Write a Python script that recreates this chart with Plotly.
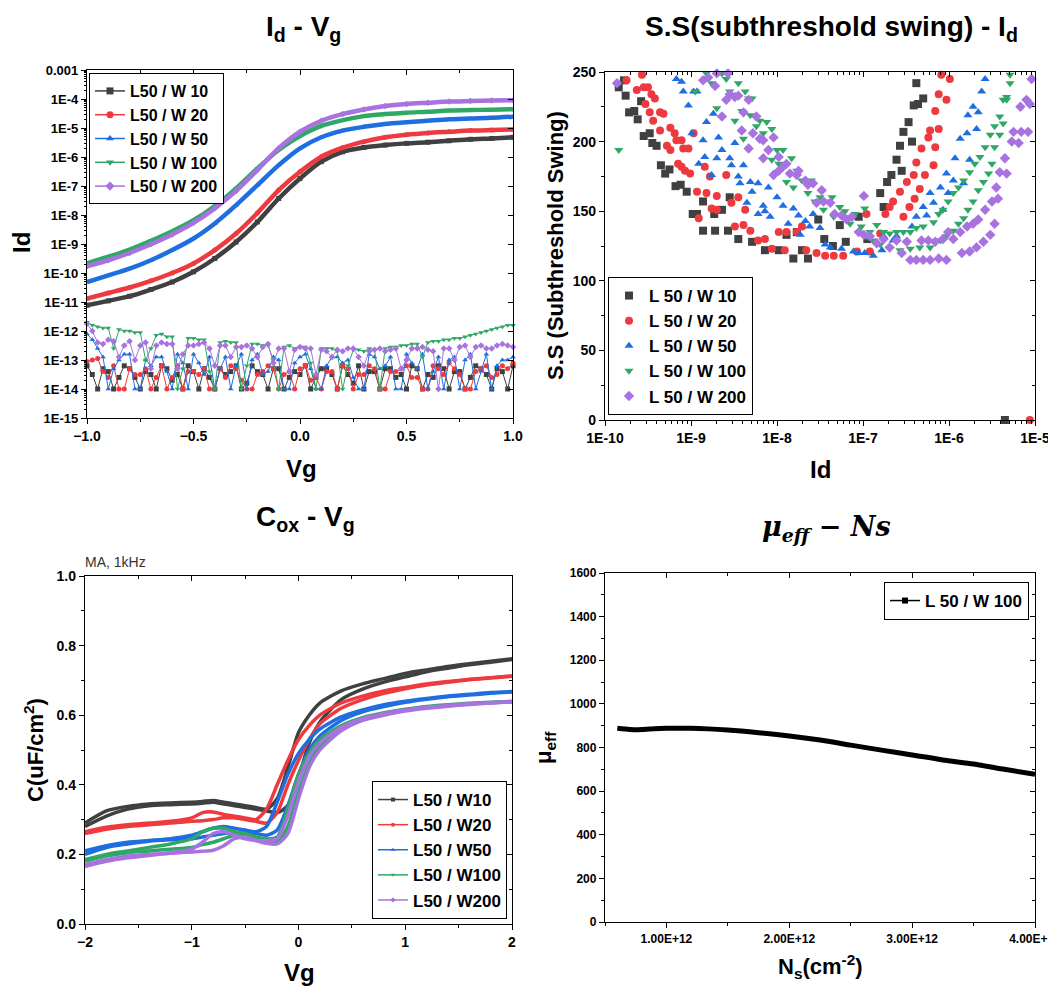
import plotly.graph_objects as go

# The page body has an 8px margin; layout coordinates below are window pixels.
OFF = 8
W, H = 1056 - OFF, 988 - OFF
FONT = "Liberation Sans, Arial, sans-serif"

def fx(px):
    return (px - OFF) / W

def fy(py):
    return 1 - (py - OFF) / H

names_a = ["L50 / W 10", "L50 / W 20", "L50 / W 50", "L50 / W 100", "L50 / W 200"]
names_b = ["L 50 / W 10", "L 50 / W 20", "L 50 / W 50", "L 50 / W 100", "L 50 / W 200"]
names_c = ["L50 / W10", "L50 / W20", "L50 / W50", "L50 / W100", "L50 / W200"]
colors = ["#404040", "#ee3a3f", "#1f6ee0", "#2fa866", "#a872e0"]
symbols = ["square", "circle", "triangle-up", "triangle-down", "diamond"]

# ---------------- Panel 1: Id - Vg (log10 of Id) ----------------
vg = [-1.0, -0.9, -0.8, -0.7, -0.6, -0.5, -0.4, -0.3, -0.2, -0.1, 0.0,
      0.1, 0.2, 0.3, 0.4, 0.5, 0.6, 0.7, 0.8, 0.9, 1.0]
id_w10 = [-11.11, -10.96, -10.80, -10.57, -10.31, -9.96, -9.50, -8.93, -8.24, -7.43, -6.74,
          -6.16, -5.82, -5.67, -5.59, -5.53, -5.49, -5.44, -5.39, -5.36, -5.32]
id_w20 = [-10.88, -10.69, -10.50, -10.27, -10.00, -9.67, -9.21, -8.64, -7.93, -7.14, -6.51,
          -5.99, -5.68, -5.47, -5.32, -5.23, -5.17, -5.13, -5.09, -5.07, -5.05]
id_w50 = [-10.31, -10.08, -9.85, -9.56, -9.21, -8.81, -8.29, -7.66, -6.97, -6.28, -5.70,
          -5.32, -5.09, -4.96, -4.86, -4.80, -4.75, -4.70, -4.67, -4.65, -4.61]
id_w100 = [-9.67, -9.44, -9.19, -8.89, -8.56, -8.18, -7.69, -7.08, -6.39, -5.76, -5.28,
           -4.93, -4.73, -4.59, -4.52, -4.47, -4.44, -4.40, -4.38, -4.37, -4.35]
id_w200 = [-9.77, -9.56, -9.31, -9.01, -8.67, -8.27, -7.77, -7.17, -6.45, -5.70, -5.13,
           -4.75, -4.52, -4.36, -4.24, -4.17, -4.13, -4.09, -4.07, -4.05, -4.04]

# gate-leakage floor, two interleaved sweeps
vg_noise = [-1.0, -0.95, -0.9, -0.85, -0.8, -0.75, -0.7, -0.65, -0.6, -0.55, -0.5,
            -0.45, -0.4, -0.35, -0.3, -0.25, -0.2, -0.15, -0.1, -0.05, 0.0,
            0.05, 0.1, 0.15, 0.2, 0.25, 0.3, 0.35, 0.4, 0.45, 0.5,
            0.55, 0.6, 0.65, 0.7, 0.75, 0.8, 0.85, 0.9, 0.95, 1.0]
vg_noise2 = [-0.975, -0.925, -0.875, -0.825, -0.775, -0.725, -0.675, -0.625, -0.575, -0.525,
             -0.475, -0.425, -0.375, -0.325, -0.275, -0.225, -0.175, -0.125, -0.075, -0.025,
             0.025, 0.075, 0.125, 0.175, 0.225, 0.275, 0.325, 0.375, 0.425, 0.475,
             0.525, 0.575, 0.625, 0.675, 0.725, 0.775, 0.825, 0.875, 0.925, 0.975]
ig_w10 = [-13.2, -14.0, -13.4, -13.6, -13.3, -14.0, -13.5, -13.2, -13.7, -14.0, -13.4,
          -13.3, -14.0, -13.5, -13.2, -13.8, -13.4, -14.0, -13.3, -13.6, -13.5,
          -14.0, -13.3, -13.5, -13.2, -13.8, -14.0, -13.4, -13.3, -13.6, -14.0,
          -13.3, -13.5, -13.2, -14.0, -13.4, -13.6, -13.3, -14.0, -13.4, -13.2]
ig_w10_b = [-13.5, -13.3, -14.0, -13.2, -13.6, -13.4, -14.0, -13.3, -13.5, -13.2,
            -14.0, -13.6, -13.3, -13.4, -14.0, -13.2, -13.5, -13.3, -14.0, -13.4,
            -13.2, -13.6, -13.3, -14.0, -13.5, -13.2, -13.4, -14.0, -13.3, -13.5,
            -13.2, -14.0, -13.6, -13.3, -13.4, -14.0, -13.2, -13.5, -13.3, -14.0]
ig_w20 = [-13.05, -12.95, -13.6, -14.0, -13.3, -13.5, -14.0, -13.2, -13.6, -14.0, -13.4,
          -13.3, -14.0, -13.6, -13.3, -14.0, -13.5, -13.2, -14.0, -13.4, -13.3,
          -13.7, -14.0, -13.4, -13.2, -14.0, -13.5, -13.3, -14.0, -13.4, -13.2,
          -13.6, -14.0, -13.3, -13.1, -13.5, -14.0, -13.3, -13.6, -13.2, -13.1]
ig_w20_b = [-13.0, -13.4, -13.2, -14.0, -13.5, -13.3, -13.6, -14.0, -13.2, -13.4,
            -13.5, -14.0, -13.3, -13.2, -13.7, -14.0, -13.4, -13.3, -13.5, -14.0,
            -13.2, -13.6, -13.4, -14.0, -13.3, -13.5, -13.2, -14.0, -13.4, -13.3,
            -13.6, -14.0, -13.2, -13.5, -13.3, -14.0, -13.4, -13.2, -13.5, -13.3]
ig_w50 = [-12.1, -12.6, -14.0, -13.0, -12.8, -14.0, -13.2, -12.9, -14.0, -13.1, -12.8,
          -13.5, -14.0, -12.9, -13.2, -14.0, -12.8, -13.4, -13.0, -14.0, -12.9,
          -13.3, -14.0, -12.9, -13.1, -13.6, -14.0, -12.9, -13.2, -14.0, -12.8,
          -13.3, -14.0, -12.9, -13.0, -14.0, -12.8, -13.4, -14.0, -13.0, -12.9]
ig_w50_b = [-12.3, -12.9, -13.3, -12.8, -14.0, -13.0, -12.9, -13.4, -12.8, -14.0,
            -13.1, -12.9, -13.3, -14.0, -12.8, -13.0, -13.5, -12.9, -14.0, -13.1,
            -12.8, -14.0, -13.2, -12.9, -13.0, -14.0, -12.8, -13.3, -12.9, -14.0,
            -13.1, -12.8, -13.4, -14.0, -12.9, -13.0, -14.0, -12.8, -13.2, -13.0]
ig_w100 = [-11.7, -11.85, -11.9, -11.95, -12.0, -12.05, -12.6, -12.1, -12.2, -13.3, -12.25,
           -12.3, -14.0, -12.35, -12.4, -13.2, -12.45, -12.5, -14.0, -12.5, -12.55,
           -13.1, -12.6, -12.6, -14.0, -12.65, -12.7, -12.65, -12.6, -12.55, -12.5,
           -12.45, -12.4, -12.35, -12.3, -12.25, -12.15, -12.05, -11.95, -11.85, -11.8]
ig_w100_b = [-11.8, -11.9, -12.6, -12.0, -12.05, -13.0, -12.15, -12.2, -14.0, -12.25,
             -12.3, -13.4, -12.4, -12.4, -14.0, -12.45, -12.5, -13.0, -12.55, -12.6,
             -12.55, -14.0, -12.6, -12.7, -13.2, -12.65, -12.6, -14.0, -12.55, -12.5,
             -12.45, -12.9, -12.35, -12.3, -12.25, -12.2, -12.1, -12.0, -11.9, -11.8]
ig_w200 = [-11.75, -12.4, -12.3, -12.9, -12.35, -12.5, -13.3, -12.4, -12.45, -12.8, -12.5,
           -12.4, -13.2, -12.5, -12.55, -12.5, -12.9, -12.45, -12.6, -13.4, -12.55,
           -12.6, -12.65, -12.9, -12.7, -12.6, -13.2, -12.65, -12.7, -12.6, -13.0,
           -12.6, -12.65, -14.0, -12.6, -12.55, -12.9, -12.5, -12.6, -12.45, -12.55]
ig_w200_b = [-12.0, -12.45, -12.35, -12.5, -13.0, -12.4, -12.5, -12.45, -13.3, -12.5,
             -12.45, -12.6, -12.5, -12.9, -12.55, -12.6, -12.55, -13.1, -12.6, -12.65,
             -12.6, -13.5, -12.7, -12.65, -12.6, -12.9, -12.7, -12.6, -12.65, -13.3,
             -12.6, -12.55, -12.7, -12.6, -13.0, -12.5, -12.55, -12.6, -12.5, -12.5]

id_ticks_exp = [-15, -14, -13, -12, -11, -10, -9, -8, -7, -6, -5, -4, -3]
id_ticks_txt = ["1E-15", "1E-14", "1E-13", "1E-12", "1E-11", "1E-10", "1E-9",
                "1E-8", "1E-7", "1E-6", "1E-5", "1E-4", "0.001"]

# ---------------- Panel 2: S.S - Id (log10 Id, S.S) ----------------
ss_w10_id = [-9.84, -9.78, -9.76, -9.72, -9.66, -9.62, -9.58, -9.55, -9.48, -9.45, -9.4,
             -9.35, -9.3, -9.25, -9.18, -9.12, -9.05, -8.98, -8.93, -8.86, -8.86, -8.73,
             -8.72, -8.64, -8.57, -8.55, -8.45, -8.29, -8.14, -7.98, -7.81, -7.64, -7.71,
             -7.89, -7.77, -7.52, -7.45, -7.35, -7.27, -7.2, -7.05, -6.95, -6.8, -6.76,
             -6.72, -6.67, -6.61, -6.55, -6.57, -6.53, -6.47, -6.43, -6.41, -6.36, -6.3,
             -6.38, -5.35]
ss_w10_val = [239, 244, 233, 221, 222, 216, 229, 204, 206, 199, 197,
              183, 177, 180, 168, 169, 164, 148, 148, 136, 157, 148,
              136, 151, 136, 160, 130, 128, 122, 122, 116, 116, 122,
              133, 135, 144, 130, 125, 140, 128, 146, 130, 163, 153,
              171, 176, 187, 179, 197, 207, 214, 200, 226, 227, 231,
              242, 0]
ss_w20_id = [-9.75, -9.57, -9.63, -9.55, -9.5, -9.46, -9.42, -9.53, -9.48, -9.44, -9.36,
             -9.32, -9.36, -9.24, -9.28, -9.19, -9.17, -9.11, -9.09, -9.03, -8.97, -9.24,
             -9.15, -9.11, -9.07, -9.01, -8.93, -8.91, -8.84, -8.78, -8.82, -8.76, -8.70,
             -8.70, -8.59, -8.53, -8.49, -8.45, -8.39, -8.37, -8.31, -8.22, -8.14, -8.06,
             -7.98, -7.91, -7.89, -7.77, -7.71, -7.66, -7.54, -7.44, -7.34, -7.23, -7.07,
             -6.96, -6.92, -6.8, -6.74, -6.69, -6.65, -6.57, -6.53, -6.49, -6.46, -6.41,
             -6.4, -6.38, -6.34, -6.32, -6.28, -6.24, -6.22, -6.18, -6.16, -6.16, -6.12,
             -6.12, -6.09, -6.03, -5.99, -5.06]
ss_w20_val = [244, 248, 237, 239, 239, 234, 231, 227, 221, 215, 221,
              220, 208, 210, 197, 206, 201, 201, 195, 195, 206, 194,
              184, 182, 179, 177, 164, 145, 182, 175, 163, 152, 161,
              151, 176, 156, 139, 160, 140, 151, 136, 129, 130, 123,
              135, 122, 135, 135, 139, 122, 120, 118, 118, 118, 121,
              148, 121, 134, 148, 153, 157, 164, 146, 171, 153, 176,
              159, 185, 166, 195, 176, 203, 208, 183, 196, 222, 209,
              234, 248, 230, 245, 0]
ss_w50_id = [-9.17, -9.11, -9.09, -9.03, -8.97, -8.93, -8.99, -8.86, -8.82, -8.91, -8.84,
             -8.76, -8.74, -8.70, -8.64, -8.68, -8.55, -8.53, -8.49, -8.45, -8.43, -8.39,
             -8.35, -8.31, -8.29, -8.22, -8.22, -8.16, -8.10, -8.14, -8.08, -8.00, -7.93,
             -7.87, -7.81, -7.75, -7.73, -7.67, -7.62, -7.58, -7.50, -7.44, -7.38, -7.25,
             -7.11, -7.05, -6.98, -6.88, -6.78, -6.76, -6.65, -6.61, -6.43, -6.38, -6.30,
             -6.26, -6.22, -6.18, -6.10, -6.07, -6.03, -6.01, -5.95, -5.93, -5.87, -5.83,
             -5.79, -5.78, -5.76, -5.72, -5.68, -5.66, -5.62, -5.58]
ss_w50_val = [245, 243, 236, 226, 236, 236, 206, 201, 214, 184, 189,
              176, 220, 188, 194, 203, 188, 183, 199, 175, 170, 183,
              156, 171, 164, 170, 148, 154, 167, 150, 146, 160, 154,
              141, 152, 147, 133, 143, 139, 148, 138, 126, 124, 123,
              121, 120, 120, 118, 122, 132, 129, 132, 139, 146, 153,
              147, 163, 156, 167, 151, 177, 163, 172, 188, 202, 170,
              206, 219, 187, 225, 209, 221, 236, 245]
ss_w100_id = [-9.84, -8.95, -8.82, -8.76, -8.70, -8.64, -8.59, -8.55, -8.49, -8.45, -8.41,
              -8.37, -8.33, -8.39, -8.31, -8.29, -8.24, -8.20, -8.16, -8.12, -8.06, -8.06,
              -8.00, -7.98, -7.93, -7.89, -7.83, -7.81, -7.77, -7.71, -7.67, -7.64, -7.60,
              -7.56, -7.50, -7.46, -7.40, -7.36, -7.34, -7.27, -7.21, -7.15, -7.09, -7.02,
              -6.98, -6.92, -6.84, -6.76, -6.69, -6.61, -6.53, -6.45, -6.38, -6.30, -6.18,
              -6.12, -6.07, -6.01, -5.95, -5.89, -5.83, -5.76, -5.70, -5.64, -5.58, -5.52,
              -5.47, -5.41, -5.37, -5.33, -5.29, -6.96, -6.88, -6.80, -6.69, -6.57, -6.45,
              -6.34, -6.22, -6.10, -6.03, -5.95, -5.89, -5.83, -5.78, -5.72, -5.66, -5.60,
              -5.54, -5.50, -5.47, -5.41, -5.37, -5.33, -5.29]
ss_w100_val = [194, 236, 249, 242, 224, 249, 245, 236, 215, 242, 222,
               236, 231, 202, 219, 231, 211, 215, 206, 214, 209, 187,
               194, 184, 194, 171, 188, 167, 179, 172, 171, 163, 172,
               157, 160, 151, 157, 160, 146, 153, 150, 141, 148, 139,
               152, 135, 140, 135, 134, 135, 135, 135, 138, 139, 142,
               148, 151, 157, 163, 167, 172, 178, 184, 189, 196, 205,
               211, 218, 230, 232, 248, 132, 129, 126, 123, 122, 123,
               124, 124, 129, 132, 136, 141, 145, 151, 157, 165, 171,
               177, 184, 196, 205, 213, 230, 242]
ss_w200_id = [-9.86, -8.86, -8.80, -8.72, -8.70, -8.64, -8.57, -8.55, -8.59, -8.49, -8.45,
              -8.41, -8.39, -8.33, -8.33, -8.28, -8.24, -8.20, -8.16, -8.16, -8.10, -8.04,
              -8.04, -7.98, -7.98, -7.93, -7.89, -7.85, -7.77, -7.75, -7.67, -7.64, -7.58,
              -7.54, -7.48, -7.46, -7.38, -7.33, -7.25, -7.19, -7.13, -7.05, -6.99, -6.99,
              -6.92, -6.84, -6.76, -6.69, -6.61, -6.55, -6.49, -6.45, -6.38, -6.30, -6.22,
              -6.12, -6.03, -6.32, -6.24, -6.16, -6.07, -6.01, -5.95, -5.87, -5.85, -5.79,
              -5.76, -5.72, -5.68, -5.66, -5.60, -5.58, -5.52, -5.50, -5.47, -5.45, -5.43,
              -5.41, -5.35, -5.33, -5.27, -5.25, -5.19, -5.17, -5.16, -5.10, -5.08, -5.06,
              -5.04]
ss_w200_val = [242, 244, 246, 240, 249, 218, 249, 234, 230, 232, 233,
               208, 221, 230, 195, 206, 218, 202, 201, 188, 194, 203,
               176, 189, 179, 182, 184, 177, 176, 179, 172, 169, 170,
               156, 165, 157, 156, 148, 147, 144, 146, 135, 161, 133,
               132, 127, 130, 124, 129, 120, 128, 115, 115, 115, 115,
               116, 115, 129, 129, 128, 130, 135, 130, 135, 120, 139,
               121, 141, 124, 144, 128, 151, 133, 157, 141, 167, 159,
               178, 188, 177, 200, 207, 199, 225, 207, 230, 207, 227,
               245]
ss_xtick_vals = [1e-10, 1e-9, 1e-8, 1e-7, 1e-6, 1e-5]
ss_xtick_txt = ["1E-10", "1E-9", "1E-8", "1E-7", "1E-6", "1E-5"]

# ---------------- Panel 3: C - Vg ----------------
cv_vg = [-2.0, -1.8, -1.6, -1.4, -1.2, -1.0, -0.9, -0.8, -0.7, -0.6, -0.5, -0.4, -0.3,
         -0.2, -0.1, 0.0, 0.1, 0.2, 0.4, 0.6, 0.8, 1.0, 1.2, 1.4, 1.6, 1.8, 2.0]
c_w10_a = [0.29, 0.325, 0.338, 0.345, 0.348, 0.35, 0.352, 0.355, 0.35, 0.345, 0.34, 0.335, 0.33,
           0.36, 0.45, 0.55, 0.6, 0.635, 0.67, 0.69, 0.705, 0.72, 0.73, 0.74, 0.748, 0.755, 0.762]
c_w10_b = [0.28, 0.31, 0.33, 0.34, 0.343, 0.345, 0.347, 0.35, 0.345, 0.34, 0.335, 0.33, 0.325,
           0.32, 0.34, 0.42, 0.52, 0.58, 0.645, 0.675, 0.695, 0.71, 0.725, 0.735, 0.745, 0.752, 0.76]
c_w20_a = [0.265, 0.278, 0.285, 0.29, 0.295, 0.305, 0.32, 0.322, 0.315, 0.31, 0.305, 0.3, 0.33,
           0.4, 0.47, 0.53, 0.57, 0.6, 0.635, 0.655, 0.67, 0.68, 0.69, 0.697, 0.703, 0.708, 0.713]
c_w20_b = [0.26, 0.272, 0.28, 0.285, 0.29, 0.295, 0.297, 0.3, 0.305, 0.305, 0.3, 0.295, 0.29,
           0.32, 0.4, 0.47, 0.53, 0.575, 0.62, 0.645, 0.663, 0.676, 0.687, 0.695, 0.702, 0.707, 0.712]
c_w50_a = [0.21, 0.225, 0.235, 0.24, 0.245, 0.255, 0.265, 0.275, 0.28, 0.275, 0.27, 0.265, 0.28,
           0.35, 0.43, 0.49, 0.53, 0.56, 0.595, 0.615, 0.63, 0.64, 0.648, 0.655, 0.66, 0.665, 0.668]
c_w50_b = [0.2, 0.22, 0.23, 0.238, 0.242, 0.245, 0.25, 0.255, 0.26, 0.262, 0.262, 0.26, 0.255,
           0.27, 0.34, 0.43, 0.5, 0.54, 0.585, 0.61, 0.625, 0.637, 0.646, 0.653, 0.658, 0.663, 0.667]
c_w100_a = [0.185, 0.2, 0.21, 0.22, 0.23, 0.245, 0.265, 0.275, 0.275, 0.265, 0.26, 0.25, 0.245,
            0.25, 0.33, 0.43, 0.49, 0.53, 0.57, 0.593, 0.607, 0.617, 0.625, 0.63, 0.634, 0.637, 0.64]
c_w100_b = [0.18, 0.195, 0.205, 0.21, 0.215, 0.22, 0.228, 0.235, 0.245, 0.255, 0.255, 0.245, 0.235,
            0.235, 0.28, 0.38, 0.46, 0.51, 0.56, 0.588, 0.603, 0.614, 0.622, 0.628, 0.632, 0.636, 0.639]
c_w200_a = [0.17, 0.185, 0.195, 0.2, 0.205, 0.215, 0.235, 0.26, 0.265, 0.255, 0.245, 0.24, 0.24,
            0.245, 0.31, 0.41, 0.48, 0.52, 0.565, 0.59, 0.605, 0.615, 0.623, 0.628, 0.633, 0.636, 0.639]
c_w200_b = [0.165, 0.18, 0.19, 0.197, 0.203, 0.207, 0.209, 0.212, 0.225, 0.245, 0.25, 0.24, 0.232,
            0.23, 0.26, 0.36, 0.45, 0.5, 0.555, 0.585, 0.6, 0.612, 0.62, 0.626, 0.631, 0.635, 0.638]

# ---------------- Panel 4: mobility - Ns ----------------
ns_vals = [0.6e12, 0.7e12, 0.8e12, 0.9e12, 1.0e12, 1.2e12, 1.5e12, 1.75e12, 2.0e12, 2.25e12,
           2.5e12, 2.75e12, 3.0e12, 3.25e12, 3.5e12, 3.75e12, 4.0e12]
mu_vals = [888, 883, 882, 886, 888, 888, 880, 868, 853, 834, 811, 788, 766, 743, 724, 700, 677]
ns_tickvals = [1e12, 2e12, 3e12, 4e12]
ns_ticktext = ["1.00E+12", "2.00E+12", "3.00E+12", "4.00E+12"]
ns_minor = [0.5e12, 1.5e12, 2.5e12, 3.5e12]

# minor tick positions for the log axes (2..9 within each decade)
log_minor_p1 = [k * 10.0 ** e for e in range(-15, -3) for k in range(2, 10)]
log_minor_p2 = [k * 10.0 ** e for e in range(-10, -5) for k in range(2, 10)]

fig = go.Figure()

# Panel 1 traces
id_sets = [id_w10, id_w20, id_w50, id_w100, id_w200]
ig_sets = [(ig_w10, ig_w10_b), (ig_w20, ig_w20_b), (ig_w50, ig_w50_b),
           (ig_w100, ig_w100_b), (ig_w200, ig_w200_b)]
for i in range(5):
    pairs = sorted(list(zip(vg_noise, ig_sets[i][0])) + list(zip(vg_noise2, ig_sets[i][1])))
    fig.add_trace(go.Scatter(x=[p[0] for p in pairs], y=[10 ** p[1] for p in pairs],
                             mode="lines+markers",
                             line=dict(color=colors[i], width=1),
                             marker=dict(symbol=symbols[i], size=5, color=colors[i]),
                             xaxis="x", yaxis="y", showlegend=False, cliponaxis=False))
for i in range(5):
    fig.add_trace(go.Scatter(x=vg, y=[10 ** v for v in id_sets[i]], mode="lines+markers",
                             line=dict(color=colors[i], width=4.5, shape="spline", smoothing=0.8),
                             marker=dict(symbol=symbols[i], size=5, color=colors[i]),
                             xaxis="x", yaxis="y", showlegend=False))
for i in range(5):
    fig.add_trace(go.Scatter(x=[None], y=[None], mode="lines+markers", name=names_a[i],
                             line=dict(color=colors[i], width=1.5),
                             marker=dict(symbol=symbols[i], size=7, color=colors[i]),
                             xaxis="x", yaxis="y", legend="legend"))

# Panel 2 traces
ss_id = [ss_w10_id, ss_w20_id, ss_w50_id, ss_w100_id, ss_w200_id]
ss_val = [ss_w10_val, ss_w20_val, ss_w50_val, ss_w100_val, ss_w200_val]
for i in range(5):
    fig.add_trace(go.Scatter(x=[10 ** v for v in ss_id[i]], y=ss_val[i], mode="markers",
                             name=names_b[i],
                             marker=dict(symbol=symbols[i], size=8, color=colors[i]),
                             xaxis="x2", yaxis="y2", legend="legend2", cliponaxis=False))

# Panel 3 traces
c_sets = [(c_w10_a, c_w10_b), (c_w20_a, c_w20_b), (c_w50_a, c_w50_b),
          (c_w100_a, c_w100_b), (c_w200_a, c_w200_b)]
for i in range(5):
    for branch in c_sets[i]:
        fig.add_trace(go.Scatter(x=cv_vg, y=branch, mode="lines",
                                 line=dict(color=colors[i], width=3.5, shape="spline", smoothing=0.7),
                                 xaxis="x3", yaxis="y3", showlegend=False))
for i in range(5):
    fig.add_trace(go.Scatter(x=[None], y=[None], mode="lines+markers", name=names_c[i],
                             line=dict(color=colors[i], width=1.5),
                             marker=dict(symbol=symbols[i], size=4, color=colors[i]),
                             xaxis="x3", yaxis="y3", legend="legend3"))

# Panel 4 traces
fig.add_trace(go.Scatter(x=ns_vals, y=mu_vals, mode="lines", showlegend=False,
                         line=dict(color="black", width=5, shape="spline", smoothing=0.7),
                         xaxis="x4", yaxis="y4"))
fig.add_trace(go.Scatter(x=[None], y=[None], mode="lines+markers", name="L 50 / W 100",
                         line=dict(color="black", width=1.5),
                         marker=dict(symbol="square", size=6, color="black"),
                         xaxis="x4", yaxis="y4", legend="legend4"))

# dummy traces to activate the inward-tick top/right axes
for k, (xa, ya) in enumerate([("x", "y"), ("x2", "y2"), ("x3", "y3"), ("x4", "y4")]):
    fig.add_trace(go.Scatter(x=[None], y=[None], xaxis="x%d" % (k + 5), yaxis=ya,
                             showlegend=False, hoverinfo="skip"))
    fig.add_trace(go.Scatter(x=[None], y=[None], xaxis=xa, yaxis="y%d" % (k + 5),
                             showlegend=False, hoverinfo="skip"))

def tf(size):
    return dict(family=FONT, size=size, color="black", weight="bold")

def ax(domain, anchor, size=13, **kw):
    d = dict(domain=domain, anchor=anchor, showline=True, linecolor="black", linewidth=1.3,
             mirror=True, ticks="outside", ticklen=5, tickwidth=1.3, tickcolor="black",
             showgrid=False, zeroline=False, tickfont=tf(size), automargin=False,
             ticklabeloverflow="allow")
    d.update(kw)
    return d

def mirror_ax(over, anchor, side, **kw):
    d = dict(overlaying=over, anchor=anchor, side=side, showline=False, ticks="inside",
             ticklen=5, tickwidth=1.3, tickcolor="black", showticklabels=False,
             showgrid=False, zeroline=False, automargin=False)
    d.update(kw)
    return d

def minor(ticks, **kw):
    d = dict(ticks=ticks, ticklen=3, tickwidth=1, tickcolor="black", showgrid=False)
    d.update(kw)
    return d

p1x = dict(range=[-1, 1], tickvals=[-1, -0.5, 0, 0.5, 1])
p1y = dict(type="log", range=[-15, -3], tickvals=[10 ** e for e in id_ticks_exp])
p2x = dict(type="log", range=[-10, -5], tickvals=ss_xtick_vals)
p2y = dict(range=[0, 250], dtick=50)
p3x = dict(range=[-2, 2], dtick=1)
p3y = dict(range=[0, 1], dtick=0.2)
p4x = dict(range=[0.5e12, 4e12], tickvals=ns_tickvals)
p4y = dict(range=[0, 1600], dtick=200)

def legbase(size):
    return dict(bgcolor="white", bordercolor="black", borderwidth=1,
                font=dict(family=FONT, size=size, color="black", weight="bold"),
                tracegroupgap=0)

fig.update_layout(
    width=W, height=H, margin=dict(l=0, r=0, t=0, b=0, autoexpand=False),
    paper_bgcolor="white", plot_bgcolor="white",
    font=dict(family=FONT, color="black"),
    xaxis=ax([fx(87), fx(513)], "y", size=14, tickformat=".1f",
             minor=minor("outside", dtick=0.25), **p1x),
    yaxis=ax([fy(418), fy(70)], "x", size=13, ticktext=id_ticks_txt,
             minor=minor("outside", tickvals=log_minor_p1, ticklen=2), **p1y),
    xaxis2=ax([fx(605), fx(1035)], "y2", size=14, ticktext=ss_xtick_txt,
              minor=minor("outside", tickvals=log_minor_p2), **p2x),
    yaxis2=ax([fy(420), fy(72)], "x2", size=14, minor=minor("outside", dtick=25), **p2y),
    xaxis3=ax([fx(85), fx(512)], "y3", size=14, minor=minor("outside", dtick=0.5), **p3x),
    yaxis3=ax([fy(924), fy(576)], "x3", size=14, tickformat=".1f",
              minor=minor("outside", dtick=0.1), **p3y),
    xaxis4=ax([fx(605), fx(1035)], "y4", size=12, ticktext=ns_ticktext,
              minor=minor("outside", tickvals=ns_minor), **p4x),
    yaxis4=ax([fy(922), fy(573)], "x4", size=12, minor=minor("outside", dtick=100), **p4y),
    xaxis5=mirror_ax("x", "y", "top", minor=minor("inside", dtick=0.25), **p1x),
    yaxis5=mirror_ax("y", "x", "right", **p1y),
    xaxis6=mirror_ax("x2", "y2", "top", minor=minor("inside", tickvals=log_minor_p2), **p2x),
    yaxis6=mirror_ax("y2", "x2", "right", minor=minor("inside", dtick=25), **p2y),
    xaxis7=mirror_ax("x3", "y3", "top", minor=minor("inside", dtick=0.5), **p3x),
    yaxis7=mirror_ax("y3", "x3", "right", minor=minor("inside", dtick=0.1), **p3y),
    xaxis8=mirror_ax("x4", "y4", "top", minor=minor("inside", tickvals=ns_minor), **p4x),
    yaxis8=mirror_ax("y4", "x4", "right", minor=minor("inside", dtick=100), **p4y),
    legend=dict(x=fx(89), y=fy(73), xanchor="left", yanchor="top", **legbase(16)),
    legend2=dict(x=fx(608), y=fy(415), xanchor="left", yanchor="bottom", **legbase(17)),
    legend3=dict(x=fx(507), y=fy(919), xanchor="right", yanchor="bottom", **legbase(17)),
    legend4=dict(x=fx(1029), y=fy(582), xanchor="right", yanchor="top", **legbase(17)),
)

def note(text, x, y, size=20, angle=0, family=FONT, xanchor="center", bold=True, color="black"):
    fig.add_annotation(text=text, x=fx(x), y=fy(y), xref="paper", yref="paper",
                       showarrow=False, textangle=angle, xanchor=xanchor, yanchor="middle",
                       font=dict(family=family, size=size, color=color,
                                 weight="bold" if bold else "normal"))

# Panel titles
note("I<sub>d</sub> - V<sub>g</sub>", 303, 28, size=28)
note("S.S(subthreshold swing) - I<sub>d</sub>", 831, 28, size=28)
note("C<sub>ox</sub> - V<sub>g</sub>", 305, 518, size=28)
note("<i>μ<sub>eff</sub> − Ns</i>", 826, 528, size=27, family="DejaVu Serif, Liberation Serif, serif")

# Axis titles
note("Vg", 301, 468, size=24)
note("Id", 21, 243, size=24, angle=-90)
note("S.S (Subthreshold Swing)", 555, 246, size=22, angle=-90)
note("Id", 820, 469, size=24)
note("C(uF/cm<sup>2</sup>)", 34, 750, size=22, angle=-90)
note("Vg", 299, 972, size=24)
note("μ<sub>eff</sub>", 545, 748, size=22, angle=-90)
note("N<sub>s</sub>(cm<sup>-2</sup>)", 820, 966, size=22)
note("MA, 1kHz", 83, 562, size=14, xanchor="left", bold=False, color="#333333")

fig.write_html("out.html")
